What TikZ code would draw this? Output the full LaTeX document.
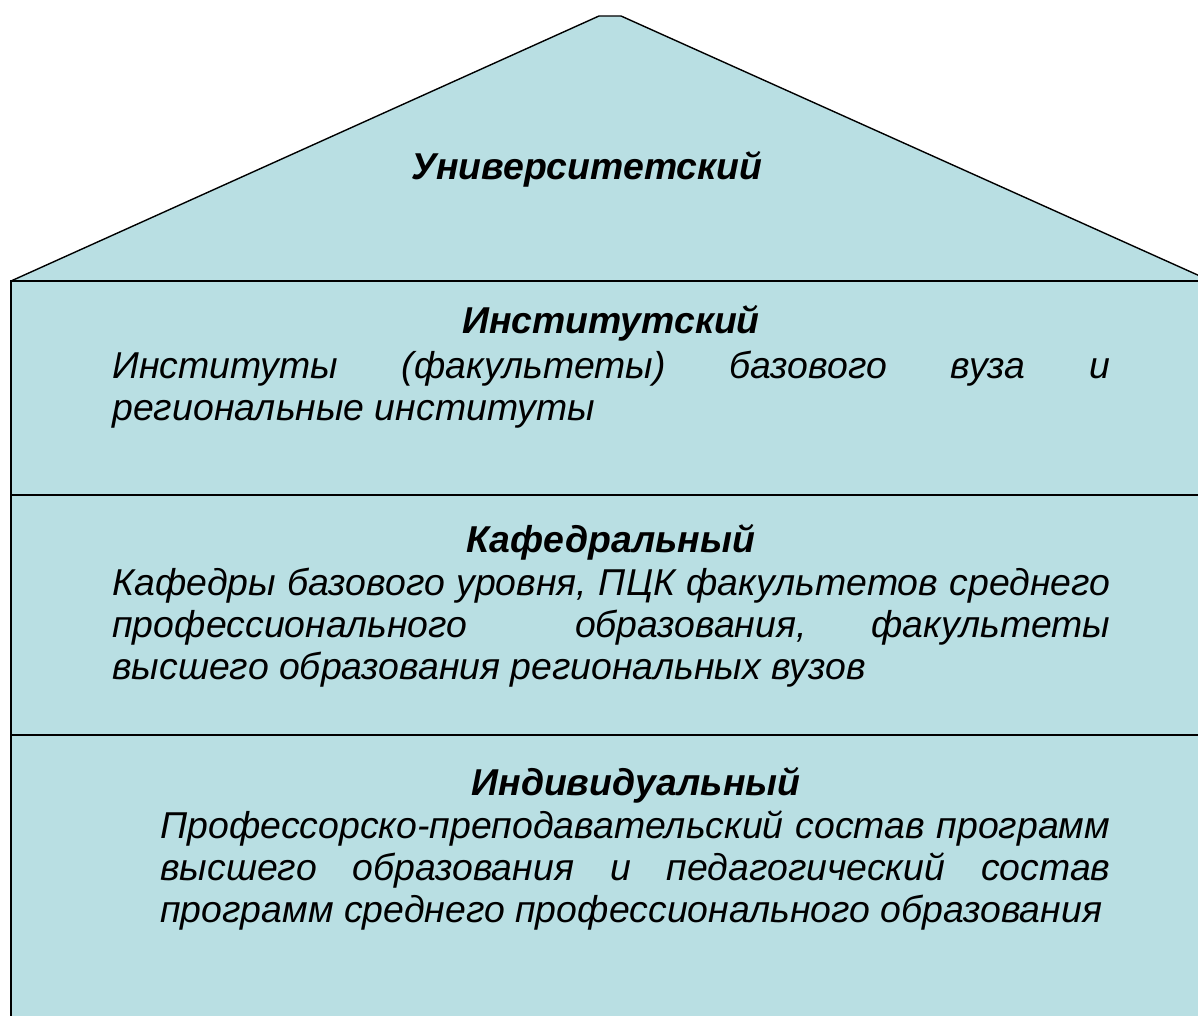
\documentclass[tikz,border=0pt]{standalone}
\usepackage{fontspec}
\setmainfont{Liberation Sans}
\definecolor{housefill}{RGB}{185,223,227}
\tikzset{
  roofline/.style={draw=black, line width=0.7pt},
  floorline/.style={draw=black, line width=1.1pt},
  titletext/.style={anchor=base, inner sep=0pt, font=\fontsize{18.7}{21}\selectfont\bfseries\itshape},
  bodytext/.style={anchor=base west, inner sep=0pt, text width=499pt, align=justify, font=\fontsize{18.7}{21}\selectfont\itshape},
}
\begin{document}
\begin{tikzpicture}[x=0.5pt,y=-0.5pt]
\useasboundingbox (0,0) rectangle (1198,1016);
\begin{scope}
\clip (0,0) rectangle (1198,1016);
\fill[housefill] (11,281) -- (599,16) -- (621,16) -- (1211,281) -- cycle;
\draw[roofline] (11,281) -- (599,16) -- (621,16) -- (1211,281);
\fill[housefill] (11,281) rectangle (1211,1030);
\draw[floorline] (11,1030) -- (11,281) -- (1211,281) -- (1211,1030);
\draw[floorline] (11,495) -- (1211,495);
\draw[floorline] (11,735) -- (1211,735);
\end{scope}
\node[titletext] (t0) at (587,180) {Университетский};
\node[titletext] (t1) at (611,333) {Институтский};
\node[bodytext] (b1) at (112,378) {Институты (факультеты) базового вуза и\linebreak региональные институты};
\node[titletext] (t2) at (611,552) {Кафедральный};
\node[bodytext] (b2) at (112,595) {Кафедры базового уровня, ПЦК факультетов среднего\linebreak профессионального\ \ образования, факультеты\linebreak высшего образования региональных вузов};
\node[titletext] (t3) at (636,795) {Индивидуальный};
\node[bodytext, text width=475pt] (b3) at (160,838) {Профессорско-преподавательский состав программ\linebreak высшего образования и педагогический состав\linebreak программ среднего профессионального образования};
\end{tikzpicture}
\end{document}
